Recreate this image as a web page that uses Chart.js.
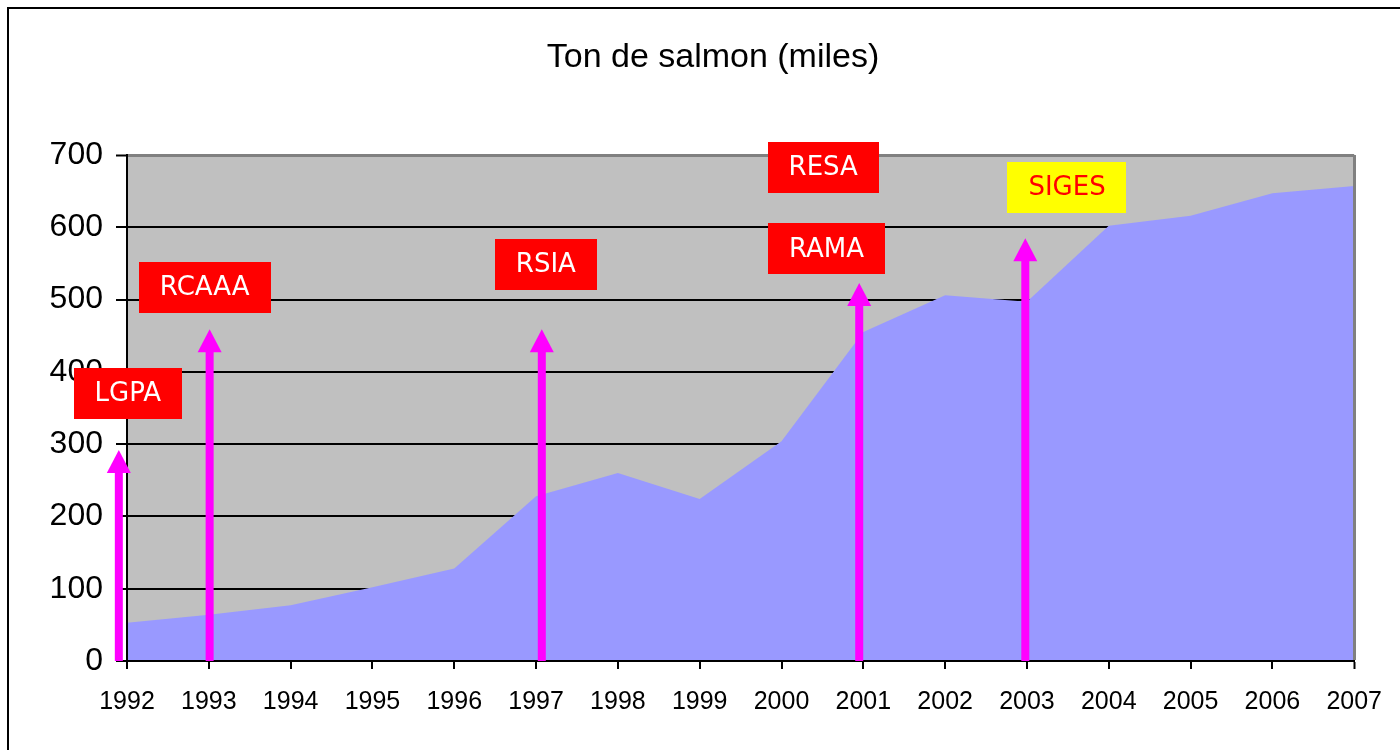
<!DOCTYPE html>
<html>
<head>
<meta charset="utf-8">
<title>Ton de salmon (miles)</title>
<script src="https://cdn.jsdelivr.net/npm/chart.js@4.4.0/dist/chart.umd.min.js"></script>
<style>
  html, body { margin: 0; padding: 0; background: #fff; overflow: hidden; }
  #frame { position: absolute; left: 7px; top: 7px; width: 1500px; height: 900px; border: 2px solid #000; }
  #chart { position: absolute; left: 0; top: 0; }
</style>
</head>
<body>
<div id="frame"></div>
<canvas id="chart" width="1400" height="750"></canvas>
<script>
const years = ['1992', '1993', '1994', '1995', '1996', '1997', '1998', '1999',
               '2000', '2001', '2002', '2003', '2004', '2005', '2006', '2007'];
const tons = [53, 64, 77, 102, 128, 228, 260, 224, 304, 455, 506, 497, 602, 616, 647, 657];
const yTicks = [0, 100, 200, 300, 400, 500, 600, 700];

// regulation arrows: where they stand on the year axis and the value their tip reaches
const arrowYear = [-0.1, 1.01, 5.07, 8.95, 10.98];
const arrowTip = [292, 459, 459, 523, 585];

// the boxed names, anchored in axis units (year index, tons)
const noteText = ['LGPA', 'RCAAA', 'RSIA', 'RESA', 'RAMA', 'SIGES'];
const noteYear = [0.01, 0.95, 5.12, 8.51, 8.55, 11.49];
const noteTons = [370, 517, 549, 683, 570, 655];

const ARIAL = '"Liberation Sans", Arial, sans-serif';
const noteFill = ['#FF0000', '#FF0000', '#FF0000', '#FF0000', '#FF0000', '#FFFF00'];
const noteInk = ['#FFFFFF', '#FFFFFF', '#FFFFFF', '#FFFFFF', '#FFFFFF', '#FF0000'];

const plotBg = {
    id: 'plotBg',
    beforeDraw(chart) {
        const { ctx, chartArea: a } = chart;
        ctx.save();
        ctx.fillStyle = '#C0C0C0';
        ctx.fillRect(a.left, a.top, a.right - a.left, a.bottom - a.top);
        ctx.restore();
    }
};

const notes = {
    id: 'notes',
    afterDraw(chart) {
        const { ctx, scales: { x, y } } = chart;
        const base = y.getPixelForValue(0);
        ctx.save();
        ctx.fillStyle = '#FF00FF';
        arrowYear.forEach((v, i) => {
            const px = x.getPixelForValue(v);
            const tip = y.getPixelForValue(arrowTip[i]);
            ctx.fillRect(px - 4, tip + 20, 8, base - tip - 20);
            ctx.beginPath();
            ctx.moveTo(px, tip);
            ctx.lineTo(px + 12, tip + 23);
            ctx.lineTo(px - 12, tip + 23);
            ctx.closePath();
            ctx.fill();
        });

        ctx.font = '26px "DejaVu Sans", Verdana, sans-serif';
        ctx.textAlign = 'center';
        ctx.textBaseline = 'middle';
        noteText.forEach((t, i) => {
            const cx = x.getPixelForValue(noteYear[i]);
            const cy = y.getPixelForValue(noteTons[i]);
            const w = ctx.measureText(t).width + 42;
            const h = 51;
            ctx.fillStyle = noteFill[i];
            ctx.fillRect(Math.round(cx - w / 2), Math.round(cy - h / 2), Math.round(w), h);
            ctx.fillStyle = noteInk[i];
            ctx.fillText(t, cx, cy + 1);
        });
        ctx.restore();
    }
};

const last = years.length - 1;

new Chart(document.getElementById('chart'), {
    type: 'line',
    data: {
        labels: years,
        datasets: [{
            data: tons,
            fill: 'origin',
            backgroundColor: '#9999FF',
            borderWidth: 0,
            pointRadius: 0,
            tension: 0
        }]
    },
    options: {
        responsive: false,
        animation: false,
        layout: { padding: { top: 0, right: 0, bottom: 0, left: 26 } },
        plugins: {
            legend: { display: false },
            tooltip: { enabled: false },
            title: {
                display: true,
                text: 'Ton de salmon (miles)',
                color: '#000',
                font: { family: ARIAL, size: 34, weight: 'normal' },
                padding: { top: 37, bottom: 77.2 }
            }
        },
        scales: {
            x: {
                offset: false,
                afterFit: s => { s.height = 89; },
                grid: {
                    z: 1,
                    drawOnChartArea: true,
                    color: c => c.index === last ? '#808080' : 'rgba(0,0,0,0)',
                    lineWidth: c => c.index === last ? 3 : 2,
                    tickColor: '#000',
                    tickWidth: 2,
                    tickLength: 8
                },
                border: { color: '#000', width: 2, z: 1 },
                ticks: {
                    color: '#000',
                    font: { family: ARIAL, size: 25 },
                    padding: 18,
                    maxRotation: 0,
                    autoSkip: false
                }
            },
            y: {
                min: 0,
                max: 700,
                afterFit: s => { s.width = 101; },
                afterBuildTicks: s => { s.ticks = yTicks.map(v => ({ value: v })); },
                grid: {
                    color: c => (c.tick && c.tick.value === 700) ? '#808080' : '#000',
                    lineWidth: c => (c.tick && c.tick.value === 700) ? 3 : 2,
                    tickColor: '#000',
                    tickWidth: 2,
                    tickLength: 11
                },
                border: { color: '#000', width: 2, z: 1 },
                ticks: {
                    color: '#000',
                    font: { family: ARIAL, size: 32 },
                    padding: 13
                }
            },
            // empty right-hand margin so the plot ends where the reference does
            yRight: {
                position: 'right',
                min: 0,
                max: 700,
                afterFit: s => { s.width = 45; },
                grid: { display: false },
                border: { display: false },
                ticks: { display: false }
            }
        }
    },
    plugins: [plotBg, notes]
});
</script>
</body>
</html>
